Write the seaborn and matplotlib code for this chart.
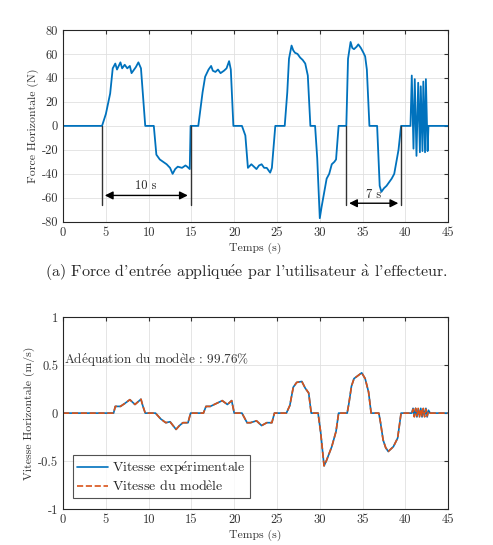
import numpy as np
import pandas as pd
import seaborn as sns
import matplotlib.pyplot as plt

# force horizontale
t_force = [0, 4.55, 5.0, 5.5, 5.8, 6.1, 6.3, 6.5, 6.7, 6.9, 7.2, 7.5, 7.8, 8.0, 8.3, 8.5, 8.8, 9.1, 9.6,
           10.6, 10.9, 11.3, 11.7, 12.1, 12.5, 12.8, 13.1, 13.4, 13.9, 14.3, 14.5, 14.8, 14.9,
           15.8, 16.3, 16.6, 17.0, 17.3, 17.5, 17.8, 18.1, 18.4, 18.8, 19.1, 19.4, 19.6, 19.9,
           20.9, 21.3, 21.6, 22.0, 22.3, 22.6, 22.9, 23.2, 23.5, 23.8, 24.2, 24.4, 24.8,
           25.9, 26.2, 26.4, 26.7, 26.9, 27.1, 27.4, 27.7, 28.0, 28.3, 28.6, 28.9,
           29.45, 29.7, 30.0, 30.2, 30.4, 30.8, 31.1, 31.4, 31.7, 31.9, 32.2,
           33.1, 33.3, 33.6, 33.8, 34.0, 34.3, 34.5, 34.8, 35.1, 35.3, 35.5, 35.8,
           36.7, 37.0, 37.2, 37.5, 37.8, 38.1, 38.4, 38.7, 38.9, 39.2, 39.5,
           40.6, 40.75, 40.95, 41.1, 41.3, 41.5, 41.7, 41.8, 42.0, 42.1, 42.3, 42.4, 42.6, 42.7, 45]
force = [0, 0, 10, 27, 48, 52, 47, 50, 53, 48, 51, 48, 50, 44, 47, 49, 53, 48, 0,
         0, -24, -28, -30, -32, -35, -40, -36, -34, -35, -33, -34, -36, 0,
         0, 28, 41, 47, 50, 46, 45, 47, 44, 46, 48, 54, 47, 0,
         0, -8, -35, -32, -34, -36, -33, -32, -35, -35, -39, -35, 0,
         0, 28, 56, 67, 63, 61, 60, 57, 55, 52, 42, 0,
         0, -27, -77, -68, -60, -44, -40, -32, -30, -28, 0,
         0, 56, 70, 65, 64, 66, 68, 65, 61, 58, 47, 0,
         0, -50, -55, -52, -50, -47, -44, -40, -32, -20, 0,
         0, 42, -19, 39, -25, 36, -22, 33, -21, 37, -22, 39, -21, 0, 0]

# vitesse horizontale
t_vit = [0, 5.9, 6.1, 6.3, 6.7, 7.2, 7.8, 8.4, 9.1, 9.3, 9.6,
         10.8, 11.4, 12.0, 12.5, 13.2, 13.6, 14.0, 14.6, 14.9,
         16.4, 16.7, 17.2, 17.9, 18.6, 19.2, 19.7, 20.0,
         20.9, 21.5, 21.9, 22.6, 23.2, 23.8, 24.4, 24.7,
         26.1, 26.5, 26.9, 27.3, 27.9, 28.3, 28.7, 29.0,
         29.8, 30.1, 30.5, 30.8, 31.4, 31.9, 32.2,
         33.2, 33.4, 33.7, 34.0, 34.3, 34.9, 35.3, 35.7, 36.0,
         36.9, 37.1, 37.4, 37.7, 38.0, 38.6, 39.1, 39.5,
         40.75, 40.9, 41.05, 41.2, 41.35, 41.5, 41.65, 41.8, 41.95, 42.1, 42.25, 42.4, 42.55, 42.7, 42.9, 45]
vit_exp = [0, 0, 0.07, 0.07, 0.07, 0.10, 0.14, 0.09, 0.145, 0.08, 0,
           0, -0.06, -0.10, -0.09, -0.17, -0.13, -0.10, -0.10, 0,
           0, 0.07, 0.07, 0.10, 0.13, 0.09, 0.13, 0,
           0, -0.10, -0.10, -0.08, -0.13, -0.10, -0.10, 0,
           0, 0.08, 0.27, 0.32, 0.33, 0.26, 0.21, 0,
           0, -0.2, -0.55, -0.49, -0.35, -0.19, 0,
           0, 0.1, 0.28, 0.36, 0.38, 0.42, 0.36, 0.22, 0,
           0, -0.1, -0.28, -0.36, -0.40, -0.35, -0.26, 0,
           0, 0.05, -0.03, 0.05, -0.04, 0.04, -0.03, 0.05, -0.04, 0.04, -0.03, 0.05, -0.04, 0.03, 0, 0]
vit_mod = [0, 0, 0.07, 0.07, 0.07, 0.10, 0.14, 0.09, 0.145, 0.08, 0,
           0, -0.06, -0.10, -0.09, -0.17, -0.13, -0.10, -0.10, 0,
           0, 0.07, 0.07, 0.10, 0.13, 0.09, 0.13, 0,
           0, -0.10, -0.10, -0.08, -0.13, -0.10, -0.10, 0,
           0, 0.08, 0.27, 0.32, 0.33, 0.26, 0.21, 0,
           0, -0.2, -0.55, -0.49, -0.35, -0.19, 0,
           0, 0.1, 0.28, 0.36, 0.38, 0.42, 0.36, 0.22, 0,
           0, -0.1, -0.28, -0.36, -0.40, -0.35, -0.26, 0,
           0, 0.04, -0.04, 0.05, -0.03, 0.05, -0.04, 0.04, -0.03, 0.05, -0.04, 0.04, -0.03, 0.02, 0, 0]

bleu = '#0072BD'
orange = '#D95319'

sns.set_style('whitegrid')
plt.rcParams['font.family'] = ['cmr10', 'DejaVu Serif']
plt.rcParams['axes.unicode_minus'] = False
plt.rcParams['mathtext.fontset'] = 'cm'


def acc(s):
    # cmr10 n'a pas les lettres accentuées -> accents en mathtext
    s = s.replace('é', r'$\acute{\mathrm{e}}$')
    s = s.replace('è', r'$\grave{\mathrm{e}}$')
    s = s.replace('à', r'$\grave{\mathrm{a}}$')
    return s


fig = plt.figure(figsize=(4.93, 5.45), dpi=100)
ax1 = fig.add_axes([0.128, 0.593, 0.781, 0.352])
ax2 = fig.add_axes([0.128, 0.066, 0.781, 0.352])


def style(ax):
    for s in ax.spines.values():
        s.set_color('#262626')
        s.set_linewidth(0.8)
    ax.grid(True, color='#e0e0e0', linewidth=0.6)
    ax.tick_params(direction='in', length=3, labelsize=9, colors='#333333', top=True, right=True)
    ax.set_xlim(0, 45)
    ax.set_xticks(range(0, 46, 5))
    ax.set_xlabel('Temps (s)', fontsize=8.5, color='#333333', labelpad=3)


# graphe (a)
df_f = pd.DataFrame({'t': t_force, 'f': force})
sns.lineplot(data=df_f, x='t', y='f', ax=ax1, color=bleu, lw=1.3)
style(ax1)
ax1.set_ylim(-80, 80)
ax1.set_yticks(range(-80, 81, 20))
ax1.set_ylabel('Force Horizontale (N)', fontsize=8.5, color='#333333', labelpad=2)

# cotes 10 s et 7 s
ax1.plot([4.55, 4.55], [0, -66], color='#333333', lw=1)
ax1.plot([14.9, 14.9], [0, -66], color='#333333', lw=1)
ax1.annotate('', xy=(4.55, -58), xytext=(14.9, -58),
             arrowprops=dict(arrowstyle='<|-|>', color='black', lw=1, mutation_scale=12))
ax1.text(9.7, -55, '10 s', ha='center', va='bottom', fontsize=9)
ax1.plot([33.1, 33.1], [0, -66], color='#333333', lw=1)
ax1.plot([39.5, 39.5], [0, -66], color='#333333', lw=1)
ax1.annotate('', xy=(33.1, -64.5), xytext=(39.5, -64.5),
             arrowprops=dict(arrowstyle='<|-|>', color='black', lw=1, mutation_scale=12))
ax1.text(36.3, -63, '7 s', ha='center', va='bottom', fontsize=9)

fig.text(0.5, 0.5, acc("(a) Force d'entrée appliquée par l'utilisateur à l'effecteur."),
         ha='center', va='center', fontsize=11.5)

# graphe (b)
df_v = pd.DataFrame({'t': t_vit, 'exp': vit_exp, 'mod': vit_mod})
sns.lineplot(data=df_v, x='t', y='exp', ax=ax2, color=bleu, lw=1.2, label=acc('Vitesse expérimentale'))
sns.lineplot(data=df_v, x='t', y='mod', ax=ax2, color=orange, lw=1.2, linestyle='--',
             label=acc('Vitesse du modèle'))
style(ax2)
ax2.set_ylim(-1, 1)
ax2.set_yticks([-1, -0.5, 0, 0.5, 1])
ax2.set_yticklabels(['-1', '-0.5', '0', '0.5', '1'])
ax2.set_ylabel('Vitesse Horizontale (m/s)', fontsize=8.5, color='#333333', labelpad=2)
ax2.text(0.15, 0.55, acc('Adéquation du modèle : 99.76%'), fontsize=9.5, va='center', color='#333333')
leg = ax2.legend(loc='lower left', bbox_to_anchor=(0.026, 0.057), borderaxespad=0, fontsize=10,
                 frameon=True, fancybox=False, borderpad=0.3, handlelength=2.2, labelspacing=0.2,
                 handletextpad=0.3)
leg.get_frame().set_edgecolor('#262626')
leg.get_frame().set_linewidth(0.8)

fig.savefig('out.png', dpi=100)
